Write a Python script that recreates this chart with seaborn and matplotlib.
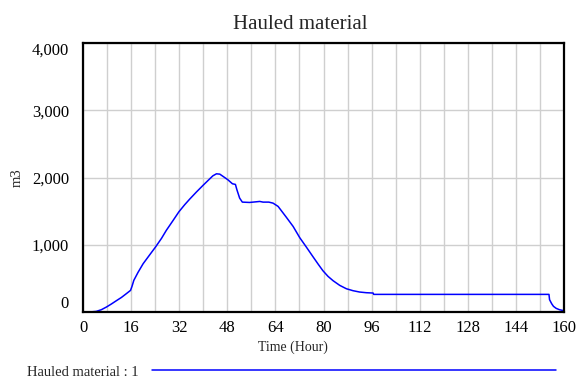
import numpy as np
import pandas as pd
import matplotlib
matplotlib.use("Agg")
import matplotlib.pyplot as plt
import seaborn as sns

title = "Hauled material"
series_name = "Hauled material : 1"
x_label = "Time (Hour)"
y_label = "m3"

time_h = [0, 2.2, 4.4, 6.1, 7.8, 9.4, 11.1, 12.8, 14.4, 15.8, 16.3, 16.9, 18.3,
          20.0, 22.2, 24.1, 26.1, 27.7, 29.9, 31.9, 33.8, 35.5, 37.7, 39.9, 41.6,
          43.2, 44.4, 45.5, 46.6, 48.2, 49.7, 50.7, 51.2, 52.1, 53.0, 55.4, 57.7,
          58.8, 59.9, 61.8, 63.2, 64.9, 67.6, 69.9, 72.1, 74.3, 76.5, 78.2, 79.8,
          81.5, 83.2, 85.4, 87.6, 89.8, 92.0, 94.2, 96.5, 96.7, 110, 130, 150,
          155.0, 155.1, 155.2, 155.9, 156.5, 157.4, 158.5, 160]
hauled = [0, 0, 9, 34, 74, 118, 168, 217, 272, 321, 381, 470, 589,
          718, 851, 965, 1094, 1213, 1357, 1490, 1594, 1679, 1783, 1882, 1956,
          2025, 2055, 2050, 2016, 1966, 1907, 1897, 1817, 1694, 1634, 1629, 1639,
          1644, 1634, 1634, 1619, 1570, 1411, 1272, 1105, 965, 822, 713, 614,
          530, 465, 396, 346, 317, 297, 287, 282, 262, 262, 262, 262,
          262, 222, 183, 123, 84, 54, 34, 19]

x_ticks = list(range(0, 161, 16))
x_minor = list(range(0, 161, 8))
y_ticks = [0, 1000, 2000, 3000, 4000]
y_ticklabels = ["0", "1,000", "2,000", "3,000", "4,000"]

df = pd.DataFrame({"Time": time_h, "Value": hauled})

sns.set_style("white")
plt.rcParams["font.family"] = ["Liberation Serif", "DejaVu Serif"]

fig = plt.figure(figsize=(5.79, 3.83), dpi=100)
ax = fig.add_axes([83 / 579, 1 - 312 / 383, (564 - 83) / 579, (312 - 43) / 383])

sns.lineplot(data=df, x="Time", y="Value", ax=ax, color="#0000ff", linewidth=1.1,
             label=series_name, legend=False)

ax.set_xlim(0, 160)
ax.set_ylim(0, 4000)
ax.set_xticks(x_ticks)
ax.set_xticks(x_minor, minor=True)
ax.set_yticks(y_ticks)
ax.set_yticklabels(y_ticklabels)
ax.tick_params(axis="both", which="both", length=0, labelsize=12, colors="black")
ax.tick_params(axis="x", pad=6)
ax.tick_params(axis="y", pad=10)
labels = ax.get_yticklabels()
labels[0].set_va("bottom")
labels[-1].set_va("top")

ax.grid(True, which="both", axis="x", color="#cfcfcf", linewidth=1.0)
ax.grid(True, which="major", axis="y", color="#cfcfcf", linewidth=1.0)
ax.set_axisbelow(True)
for s in ax.spines.values():
    s.set_visible(True)
    s.set_color("black")
    s.set_linewidth(1.6)

ax.set_title(title, fontsize=15, pad=10, x=(300 - 83) / 481)
ax.set_xlabel(x_label, fontsize=10, labelpad=3, x=(293 - 83) / 481)
ax.set_ylabel(y_label, fontsize=10.5, labelpad=6)

h, l = ax.get_legend_handles_labels()
fig.legend(h, l, loc="center left", bbox_to_anchor=(27 / 579, 1 - 372 / 383),
           frameon=False, markerfirst=False, handlelength=27.7, fontsize=10.5,
           handletextpad=0.9, borderaxespad=0, borderpad=0)

fig.savefig("out.png", dpi=100)
